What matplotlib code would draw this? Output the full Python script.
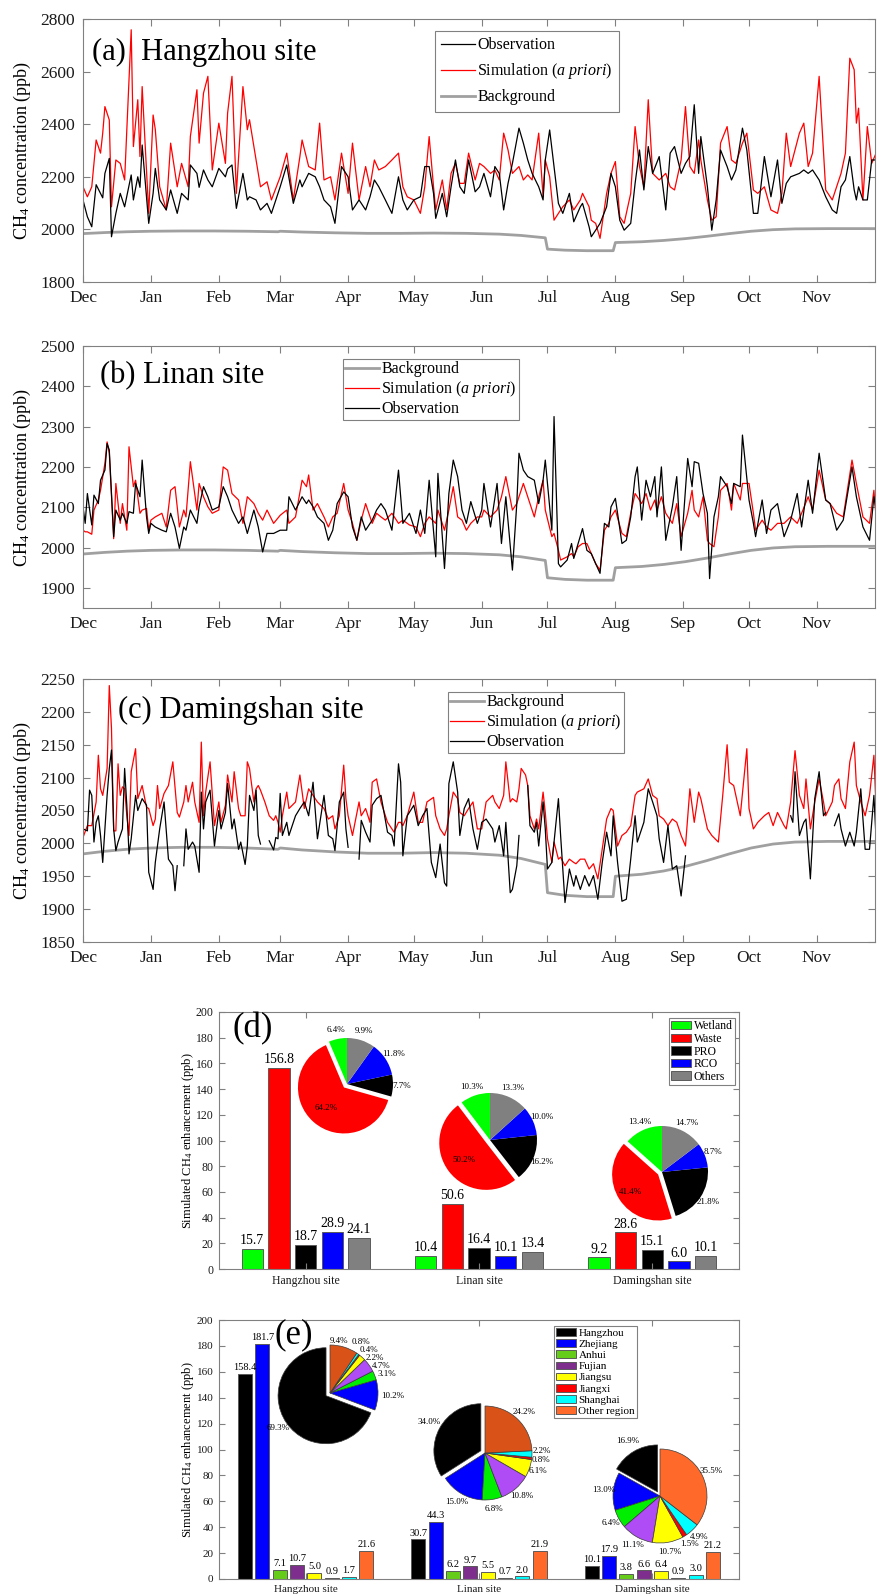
import numpy as np
import matplotlib.pyplot as plt
from matplotlib.lines import Line2D
from matplotlib.patches import Patch

plt.rcParams['font.family'] = 'Liberation Serif'
plt.rcParams['mathtext.fontset'] = 'custom'
plt.rcParams['mathtext.rm'] = 'Liberation Serif'
plt.rcParams['mathtext.it'] = 'Liberation Serif:italic'

nan = np.nan

# ---- time axis: days counted from 1 December ----
month_days = [0, 31, 62, 90, 121, 151, 182, 212, 243, 274, 304, 335]
month_names = ['Dec', 'Jan', 'Feb', 'Mar', 'Apr', 'May', 'Jun', 'Jul', 'Aug', 'Sep', 'Oct', 'Nov']

# background CH4 (ppb), shared by the three sites
bg_days = [0, 10, 20, 31, 45, 60, 75, 89, 90, 100, 115, 130, 145, 160, 175, 190, 200, 211, 212,
           220, 230, 242, 243, 255, 265, 275, 285, 295, 305, 315, 325, 340, 362]
bg_vals = [1984, 1988, 1991, 1993, 1994, 1994, 1993, 1991, 1993, 1990, 1987, 1985, 1985, 1986, 1985,
           1982, 1977, 1968, 1925, 1921, 1919, 1919, 1950, 1953, 1958, 1965, 1974, 1984, 1993, 1999,
           2002, 2003, 2003]

# Hangzhou
a_days = [0, 2, 4, 6, 8, 9, 10, 12, 13, 15,
          17, 19, 22, 23, 25, 26, 27, 30, 32, 33,
          35, 38, 40, 43, 45, 48, 49, 52, 53, 55,
          57, 59, 62, 65, 66, 68, 70, 73, 75, 76,
          79, 81, 84, 86, 90, 93, 96, 99, 100, 103,
          106, 108, 110, 113, 115, 118, 121, 123, 126, 129,
          131, 133, 135, 138, 141, 144, 146, 148, 151, 154,
          156, 158, 160, 161, 164, 166, 168, 170, 172, 174,
          176, 179, 181, 183, 186, 188, 190, 192, 194, 196,
          199, 201, 203, 205, 208, 210, 211, 213, 215, 217,
          219, 222, 224, 227, 228, 231, 232, 234, 236, 239,
          241, 243, 245, 247, 250, 252, 254, 256, 258, 260,
          263, 266, 268, 270, 273, 275, 277, 279, 281, 282,
          285, 287, 289, 291, 294, 296, 298, 301, 303, 306,
          308, 311, 314, 317, 319, 321, 323, 327, 329, 331,
          333, 336, 339, 342, 344, 346, 348, 350, 352, 353,
          354, 356, 358, 360, 362]
a_sim = [2162, 2124, 2162, 2340, 2290, 2366, 2467, 2416, 2086, 2264,
         2251, 2188, 2759, 2315, 2493, 2277, 2543, 2061, 2435, 2380,
         2162, 2074, 2328, 2162, 2251, 2162, 2353, 2531, 2328, 2518,
         2582, 2226, 2404, 2251, 2442, 2582, 2137, 2543, 2379, 2417,
         2264, 2162, 2181, 2112, 2200, 2290, 2112, 2277, 2340, 2239,
         2226, 2404, 2188, 2200, 2112, 2290, 2137, 2328, 2112, 2239,
         2162, 2264, 2226, 2239, 2264, 2290, 2162, 2124, 2112, 2061,
         2162, 2353, 2162, 2074, 2188, 2074, 2213, 2251, 2175, 2175,
         2290, 2188, 2251, 2239, 2213, 2226, 2188, 2366, 2302, 2213,
         2239, 2188, 2207, 2188, 2366, 2124, 2264, 2200, 2035, 2061,
         2086, 2112, 2074, 2112, 2137, 2086, 2035, 2023, 1966, 2137,
         2213, 2258, 2048, 2023, 2137, 2391, 2239, 2162, 2493, 2213,
         2188, 2213, 2162, 2150, 2264, 2467, 2239, 2213, 2340, 2264,
         2112, 2035, 2048, 2328, 2391, 2264, 2251, 2328, 2366, 2150,
         2137, 2162, 2074, 2061, 2137, 2366, 2239, 2366, 2404, 2239,
         2290, 2582, 2150, 2112, 2162, 2213, 2290, 2651, 2607, 2404,
         2461, 2112, 2391, 2251, 2290]
a_obs = [2112, 2048, 2010, 2170, 2137, 2120, 2213, 2270, 1972, 2061,
         2137, 2086, 2207, 2112, 2200, 2160, 2321, 2023, 2137, 2232,
         2112, 2074, 2150, 2061, 2137, 2112, 2245, 2213, 2160, 2226,
         2188, 2162, 2232, 2200, 2230, 2245, 2080, 2213, 2112, 2124,
         2112, 2074, 2099, 2061, 2162, 2245, 2099, 2188, 2162, 2213,
         2200, 2162, 2112, 2086, 2023, 2239, 2200, 2074, 2112, 2074,
         2124, 2188, 2162, 2112, 2061, 2200, 2112, 2074, 2112, 2124,
         2239, 2239, 2137, 2042, 2137, 2048, 2162, 2264, 2162, 2137,
         2264, 2143, 2162, 2213, 2124, 2239, 2213, 2074, 2175, 2251,
         2385, 2328, 2264, 2213, 2162, 2112, 2264, 2378, 2239, 2099,
         2061, 2137, 2029, 2086, 2099, 2010, 1972, 1997, 2023, 2086,
         2213, 2162, 2035, 1997, 2023, 2175, 2302, 2150, 2315, 2213,
         2277, 2074, 2290, 2315, 2213, 2251, 2277, 2474, 2213, 2353,
         2162, 1997, 2112, 2302, 2239, 2188, 2226, 2385, 2302, 2061,
         2061, 2277, 2124, 2264, 2099, 2175, 2200, 2213, 2226, 2213,
         2226, 2188, 2124, 2074, 2061, 2162, 2188, 2277, 2150, 2112,
         2162, 2112, 2112, 2264, 2264]

# Linan
b_days = [0, 1, 2, 4, 5, 7, 8, 10, 11, 12,
          14, 15, 17, 18, 20, 21, 23, 24, 26, 27,
          29, 30, 31, 33, 36, 38, 40, 42, 44, 46,
          47, 49, 52, 53, 55, 57, 59, 62, 64, 66,
          68, 71, 73, 75, 78, 80, 82, 84, 87, 90,
          93, 94, 97, 100, 102, 103, 105, 107, 110, 112,
          114, 116, 119, 121, 123, 125, 127, 129, 132, 134,
          136, 138, 141, 144, 146, 149, 152, 154, 156, 158,
          161, 162, 165, 167, 169, 171, 173, 175, 177, 180,
          182, 183, 186, 189, 191, 193, 196, 198, 199, 201,
          203, 206, 208, 210, 211, 214, 215, 217, 218, 221,
          223, 224, 226, 228, 230, 232, 234, 236, 238, 240,
          241, 243, 246, 248, 250, 252, 253, 255, 257, 259,
          261, 262, 264, 266, 269, 271, 273, 276, 278, 279,
          281, 283, 285, 286, 288, 290, 291, 294, 296, 297,
          300, 301, 304, 306, 307, 310, 312, 314, 317, 320,
          323, 326, 328, 331, 333, 336, 339, 341, 344, 347,
          351, 353, 356, 359, 361, 362]
b_obs = [2101, 2060, 2134, 2056, 2130, 2109, 2167, 2192, 2258, 2242,
         2027, 2093, 2068, 2085, 2060, 2089, 2085, 2159, 2126, 2217,
         2076, 2035, 2060, 2051, 2043, 2039, 2085, 2051, 1998, 2051,
         2043, 2093, 2060, 2101, 2151, 2126, 2093, 2101, 2151, 2126,
         2093, 2060, 2076, 2035, 2093, 2051, 1989, 2035, 2035, 2043,
         2043, 2126, 2093, 2126, 2109, 2118, 2101, 2076, 2060, 2018,
         2043, 2109, 2138, 2126, 2051, 2018, 2076, 2043, 2068, 2093,
         2109, 2093, 2043, 2192, 2060, 2085, 2035, 2093, 2035, 2167,
         1977, 2184, 1948, 2134, 2217, 2176, 2093, 2060, 2114, 2060,
         2093, 2159, 2051, 2159, 2010, 2126, 1944, 2109, 2234, 2192,
         2176, 2167, 2109, 2167, 2217, 2043, 2325, 1960, 1952, 1969,
         2010, 1973, 2010, 2047, 1993, 1985, 1960, 1936, 2060, 2051,
         2101, 2122, 2010, 2018, 2076, 2176, 2200, 2068, 2167, 2126,
         2176, 2076, 2200, 2018, 2101, 2176, 1993, 2221, 2151, 2213,
         2209, 2134, 2085, 1923, 2076, 2126, 2176, 2151, 2109, 2159,
         2151, 2279, 2118, 2060, 2027, 2118, 2035, 2093, 2109, 2027,
         2068, 2134, 2051, 2167, 2085, 2234, 2118, 2109, 2043, 2068,
         2200, 2126, 2051, 2018, 2126, 2093]
b_sim = [2043, 2039, 2039, 2033, 2093, 2118, 2142, 2209, 2262, 2234,
         2022, 2159, 2060, 2109, 2043, 2250, 2151, 2167, 2085, 2093,
         2097, 2043, 2068, 2076, 2085, 2051, 2142, 2151, 2051, 2093,
         2076, 2213, 2093, 2159, 2126, 2101, 2085, 2093, 2200, 2192,
         2134, 2118, 2060, 2126, 2109, 2085, 2068, 2093, 2060, 2080,
         2093, 2060, 2076, 2167, 2151, 2180, 2093, 2109, 2076, 2051,
         2076, 2085, 2159, 2093, 2060, 2018, 2068, 2109, 2060, 2085,
         2076, 2068, 2085, 2060, 2068, 2056, 2051, 2027, 2060, 2076,
         2060, 2093, 2043, 2093, 2151, 2076, 2068, 2043, 2060, 2076,
         2076, 2093, 2076, 2093, 2126, 2176, 2093, 2109, 2126, 2159,
         2126, 2076, 2126, 2167, 2093, 2027, 2035, 1993, 1969, 1977,
         1985, 1977, 2002, 2010, 2010, 1985, 1960, 1944, 2043, 2060,
         2076, 2093, 2035, 2027, 2085, 2134, 2126, 2109, 2134, 2093,
         2118, 2093, 2126, 2085, 2060, 2109, 2027, 2085, 2142, 2093,
         2076, 2126, 2018, 2010, 2002, 2076, 2142, 2159, 2093, 2159,
         2118, 2159, 2159, 2085, 2043, 2068, 2051, 2043, 2060, 2060,
         2076, 2060, 2085, 2126, 2093, 2192, 2118, 2109, 2085, 2076,
         2217, 2159, 2076, 2060, 2142, 2076]

# Damingshan (observation has gaps)
c_sim_days = [0, 2, 4, 5, 6, 7, 8, 9, 11, 12,
              13, 14, 15, 16, 17, 18, 19, 20, 21, 22,
              24, 25, 27, 29, 30, 32, 33, 34, 35, 37,
              39, 41, 43, 44, 46, 47, 48, 50, 51, 53,
              54, 55, 56, 58, 60, 62, 63, 65, 66, 68,
              69, 71, 72, 74, 75, 76, 78, 79, 80, 81,
              83, 85, 87, 88, 89, 90, 91, 93, 94, 97,
              99, 101, 103, 105, 107, 110, 112, 114, 115, 117,
              119, 120, 121, 123, 126, 127, 129, 131, 132, 134,
              136, 139, 141, 142, 144, 145, 146, 148, 151, 153,
              155, 157, 160, 161, 163, 165, 166, 167, 169, 171,
              172, 174, 176, 178, 180, 182, 184, 187, 188, 190,
              192, 193, 195, 196, 198, 199, 200, 202, 203, 204,
              206, 207, 208, 210, 211, 212, 214, 215, 217, 218,
              220, 222, 224, 225, 227, 229, 231, 233, 235, 237,
              239, 241, 242, 244, 246, 248, 250, 252, 253, 256,
              258, 260, 262, 263, 265, 267, 269, 271, 273, 275,
              277, 279, 281, 282, 285, 287, 290, 292, 294, 295,
              297, 300, 303, 304, 306, 308, 311, 313, 315, 317,
              320, 321, 323, 325, 327, 329, 330, 332, 334, 336,
              338, 339, 342, 343, 345, 346, 348, 350, 352, 353,
              355, 357, 359, 361, 362]
c_sim = [2009, 2027, 2027, 2045, 2063, 2134, 2083, 2073, 2114, 2240,
         2175, 2019, 2019, 2121, 2073, 2086, 2083, 2042, 2012, 2109,
         2144, 2068, 2088, 2055, 2053, 2027, 2037, 2088, 2053, 2076,
         2088, 2124, 2047, 2040, 2063, 2088, 2063, 2093, 2063, 2032,
         2154, 2042, 2078, 2124, 2027, 2063, 2032, 2058, 2104, 2063,
         2109, 2053, 2042, 2042, 2124, 2114, 2063, 2083, 2088, 2081,
         2063, 2042, 2035, 2042, 2032, 2017, 2042, 2078, 2053, 2063,
         2104, 2053, 2083, 2073, 2063, 2053, 2037, 2042, 2022, 2042,
         2119, 2068, 2042, 2012, 2063, 2042, 2053, 2032, 2093, 2098,
         2063, 2032, 2022, 2017, 2032, 2032, 2027, 2042, 2078, 2032,
         2032, 2063, 2070, 2042, 2022, 2012, 2022, 2042, 2078, 2068,
         2047, 2042, 2053, 2063, 2022, 2022, 2063, 2073, 2063, 2053,
         2073, 2124, 2063, 2068, 2063, 2083, 2114, 2104, 2088, 2042,
         2022, 2037, 2022, 2078, 2047, 2007, 1971, 2002, 1976, 1979,
         1966, 1976, 1971, 1969, 1976, 1976, 1961, 1969, 1946, 1991,
         2037, 2053, 2050, 1996, 2012, 2017, 2027, 2073, 2078, 2083,
         2098, 2073, 2068, 2042, 2037, 2027, 2037, 2032, 2012, 1996,
         2083, 2032, 2078, 2068, 2022, 2012, 2002, 2073, 2150, 2093,
         2088, 2042, 2144, 2053, 2022, 2032, 2042, 2047, 2027, 2047,
         2027, 2022, 2063, 2141, 2073, 2053, 2098, 2022, 2063, 2098,
         2063, 2042, 2063, 2088, 2098, 2068, 2053, 2124, 2154, 2088,
         2063, 2042, 2073, 2134, 2053]
c_obs_days = [0, 2, 3, 4, 5, 6, 7, 8, 9, 11,
              12, 13, 14, 15, 16, 17, 18, 19, 20, 21,
              22, 24, 25, 27, 29, 30, 32, 33, 34, 35,
              37, 39, 41, 42, 43, 44, 46, 47, 48, 50,
              51, 53, 54, 55, 56, 58, 60, 62, 63, 65,
              66, 68, 69, 71, 72, 74, 75, 76, 78, 79,
              80, 81, 83, 85, 87, 88, 89, 90, 91, 93,
              94, 97, 99, 101, 103, 105, 107, 110, 112, 114,
              115, 117, 119, 120, 121, 123, 126, 127, 129, 131,
              132, 134, 136, 139, 141, 142, 144, 145, 146, 148,
              151, 153, 155, 157, 159, 161, 163, 165, 166, 167,
              169, 171, 172, 174, 176, 178, 180, 182, 184, 187,
              188, 190, 192, 193, 195, 196, 198, 199, 200, 203,
              204, 206, 207, 208, 210, 211, 212, 214, 215, 217,
              218, 220, 222, 224, 225, 227, 229, 231, 233, 235,
              237, 239, 241, 242, 244, 246, 248, 250, 252, 253,
              256, 258, 260, 262, 263, 265, 267, 269, 271, 273,
              275, 276, 323, 324, 325, 327, 329, 330, 332, 334,
              336, 338, 339, 341, 343, 345, 346, 348, 350, 352,
              353, 355, 357, 359, 361, 362]
c_obs = [2022, 2019, 2081, 2073, 2002, 2032, 2042, 2012, 1971, 2073,
         2114, 2142, 2022, 1989, 2002, 2012, 2022, 2114, 2058, 1984,
         2007, 2073, 2050, 2068, 2058, 1956, 1930, 1971, 1996, 2022,
         2063, 1976, 1966, 1928, 1966, nan, 1966, 2022, 1991, 2002,
         1996, 1956, 2078, 2022, 2063, 2081, 1996, 2050, 2022, 2047,
         2091, 2022, 2037, 1991, 2002, 1968, 1996, 2073, 2050, 2081,
         2012, 1999, nan, 2004, 1990, 2009, 2007, 2076, 2012, 2032,
         2012, 2042, 2053, 2063, 2042, 2093, 2007, 2073, 2012, 2007,
         1989, 2063, 2078, 2022, 1994, nan, 1976, 2035, 2017, 2002,
         2058, 2068, 2073, 2017, 2012, 1996, 2121, 2093, 1981, 2042,
         2058, 2027, 2042, 2053, 1971, 1948, 1999, 1940, 1935, 2091,
         2124, 2078, 2012, 2053, 2068, 2022, 1991, 2032, 2037, 2022,
         2002, 2027, 1981, 2032, 1925, 1930, 1966, 2012, nan, 2088,
         2027, 2017, 2032, 1996, 2063, 2022, 1961, 1971, 2002, 2068,
         2012, 1910, 1961, 1935, 1951, 1930, 1951, 1935, 1951, 1915,
         1971, 2017, 1981, 2042, 1971, 1912, 1915, 1976, 2042, 2002,
         2032, 2083, 2063, 2042, 2007, 1971, 2027, 1961, 1966, 1920,
         1981, nan, 2042, 2032, 2109, 2012, 2032, 2037, 1946, 2068,
         2109, 2042, 2047, nan, 2027, 2045, 2022, 1996, 2017, 1996,
         2017, 2083, 1991, 1991, 2073, 2007]

# ---- source / region contributions ----
sites = ['Hangzhou site', 'Linan site', 'Damingshan site']

sources = ['Wetland', 'Waste', 'PRO', 'RCO', 'Others']
source_vals = [[15.7, 156.8, 18.7, 28.9, 24.1],
               [10.4, 50.6, 16.4, 10.1, 13.4],
               [9.2, 28.6, 15.1, 6.0, 10.1]]
source_pct = [[6.4, 64.2, 7.7, 11.8, 9.9],
              [10.3, 50.2, 16.2, 10.0, 13.3],
              [13.4, 41.4, 21.8, 8.7, 14.7]]

regions = ['Hangzhou', 'Zhejiang', 'Anhui', 'Fujian', 'Jiangsu', 'Jiangxi', 'Shanghai', 'Other region']
region_vals = [[158.4, 181.7, 7.1, 10.7, 5.0, 0.9, 1.7, 21.6],
               [30.7, 44.3, 6.2, 9.7, 5.5, 0.7, 2.0, 21.9],
               [10.1, 17.9, 3.8, 6.6, 6.4, 0.9, 3.0, 21.2]]
region_pct = [[69.3, 10.2, 3.1, 4.7, 2.2, 0.4, 0.8, 9.4],
              [34.0, 15.0, 6.8, 10.8, 6.1, 0.8, 2.2, 24.2],
              [16.9, 13.0, 6.4, 11.1, 10.7, 1.5, 4.9, 35.5]]

# ---- colours ----
source_colors = ['#00ff00', '#ff0000', '#000000', '#0000ff', '#808080']
region_bar_colors = ['#000000', '#0000ff', '#66cc1a', '#7e2f8e', '#ffff00', '#a2142f', '#00ffff', '#ff6a2a']
region_leg_colors = ['#000000', '#0000ff', '#66cc1a', '#7e2f8e', '#ffff00', '#ff0000', '#00ffff', '#ff6a2a']
region_pie_colors = ['#000000', '#0000ff', '#00ee00', '#b04cf5', '#ffff00', '#ff0000', '#00ffff', '#d95319']
AX_GRAY = '#808080'
BG_GRAY = '#a0a0a0'

W, H = 877, 1596
fig = plt.figure(figsize=(W / 100, H / 100), dpi=100)


def add_axes_px(x0, y0, x1, y1):
    return fig.add_axes([x0 / W, 1 - y1 / H, (x1 - x0) / W, (y1 - y0) / H])


def style_box(ax, labelsize, length, pad):
    for s in ax.spines.values():
        s.set_color(AX_GRAY)
        s.set_linewidth(0.8)
    ax.tick_params(direction='in', top=True, right=True, length=length, width=0.8,
                   color=AX_GRAY, labelsize=labelsize, labelcolor='#1a1a1a', pad=pad)


line_handles = {'obs': Line2D([], [], color='black', lw=0.9),
                'sim': Line2D([], [], color='red', lw=0.9),
                'bg': Line2D([], [], color=BG_GRAY, lw=2.0)}
line_labels = {'obs': 'Observation',
               'sim': r'Simulation ($\mathit{a\ priori}$)',
               'bg': 'Background'}


def series_panel(y0, y1, obs_d, obs_v, sim_d, sim_v, ylim, yticks, title, tpos,
                 order, leg_px, spacing, bpad):
    ax = add_axes_px(83, y0, 875, y1)
    ax.plot(bg_days, bg_vals, color=BG_GRAY, lw=2.0)
    ax.plot(sim_d, sim_v, color='red', lw=0.9)
    ax.plot(obs_d, obs_v, color='black', lw=0.9)
    ax.set_xlim(0, 361.5)
    ax.set_ylim(*ylim)
    ax.set_yticks(yticks)
    ax.set_xticks(month_days)
    ax.set_xticklabels(month_names)
    style_box(ax, 12.5, 5, 6)
    ax.set_ylabel('CH$_4$ concentration (ppb)', fontsize=13)
    ax.yaxis.set_label_coords(-0.063, 0.5)
    ax.text(tpos[0], tpos[1], title, transform=ax.transAxes, fontsize=22, va='baseline')
    leg = ax.legend([line_handles[k] for k in order], [line_labels[k] for k in order],
                    loc='upper left', bbox_to_anchor=(leg_px[0] / W, 1 - leg_px[1] / H),
                    bbox_transform=fig.transFigure, fontsize=11.5, frameon=True,
                    fancybox=False, framealpha=1, edgecolor=AX_GRAY, borderaxespad=0,
                    handlelength=2.1, handletextpad=0.15, labelspacing=spacing, borderpad=bpad)
    leg.get_frame().set_linewidth(0.8)
    return ax


series_panel(19, 282, a_days, a_obs, a_days, a_sim, (1800, 2800), range(1800, 2801, 200),
             '(a)  Hangzhou site', (0.011, 0.844), ['obs', 'sim', 'bg'], (435, 31), 0.5, 0.4)
series_panel(346, 608, b_days, b_obs, b_days, b_sim, (1850, 2500), range(1900, 2501, 100),
             '(b) Linan site', (0.021, 0.859), ['bg', 'sim', 'obs'], (343, 359), 0.12, 0.15)
series_panel(679, 942, c_obs_days, c_obs, c_sim_days, c_sim, (1850, 2250), range(1850, 2251, 50),
             '(c) Damingshan site', (0.044, 0.852), ['bg', 'sim', 'obs'], (448, 692), 0.12, 0.15)


def bar_panel(y0, y1, vals, colors, step, width, label_fs, tick_fs, letter, letter_px):
    ax = add_axes_px(219, y0, 739, y1)
    vals = np.array(vals)
    n = vals.shape[1]
    centers = np.arange(1, len(sites) + 1)
    for j in range(n):
        xs = centers + (j - (n - 1) / 2) * step
        ax.bar(xs, vals[:, j], width=width, color=colors[j], edgecolor='#5a5a5a', linewidth=0.7)
        for x, v in zip(xs, vals[:, j]):
            ax.annotate(f'{v:.1f}', (x, v), xytext=(0, 1.2), textcoords='offset points',
                        ha='center', va='bottom', fontsize=label_fs)
    ax.set_xlim(0.5, 3.5)
    ax.set_ylim(0, 200)
    ax.set_yticks(range(0, 201, 20))
    ax.set_xticks(centers)
    ax.set_xticklabels(sites)
    style_box(ax, tick_fs, 4, 4)
    ax.set_ylabel('Simulated CH$_4$ enhancement (ppb)', fontsize=9)
    ax.yaxis.set_label_coords(-0.044, 0.5)
    ax.text((letter_px[0] - 219) / 520, (y1 - letter_px[1]) / (y1 - y0), letter,
            transform=ax.transAxes, fontsize=25, va='top')
    return ax


def pie_inset(cx, cy, r, pct, colors, explode_idx, inner, out, fs, edge, manual=None):
    s = 1.6
    ax = fig.add_axes([(cx - s * r) / W, 1 - (cy + s * r) / H, 2 * s * r / W, 2 * s * r / H])
    explode = [0.1 if i == explode_idx else 0 for i in range(len(pct))]
    wedges, _ = ax.pie(pct, colors=colors, explode=explode, startangle=90, counterclock=True,
                       radius=1, wedgeprops=dict(linewidth=edge[0], edgecolor=edge[1]))
    ax.set_xlim(-s, s)
    ax.set_ylim(-s, s)
    ax.set_aspect('equal')
    ax.axis('off')
    manual = manual or {}
    for i, w in enumerate(wedges):
        if i in manual:
            px, py = manual[i]
        else:
            ang = np.deg2rad((w.theta1 + w.theta2) / 2)
            d = inner if i == explode_idx else out
            px = w.center[0] + d * np.cos(ang)
            py = w.center[1] + d * np.sin(ang)
        ax.text(px, py, f'{pct[i]:.1f}%', ha='center', va='center', fontsize=fs)


# (d) contribution by source sector
axd = bar_panel(1012, 1269, source_vals, source_colors, 0.154, 0.123, 10, 8.5, '(d)', (232, 1012))
leg = axd.legend([Patch(facecolor=c, edgecolor='#5a5a5a', linewidth=0.7) for c in source_colors],
                 sources, loc='upper left', bbox_to_anchor=(669 / W, 1 - 1018 / H),
                 bbox_transform=fig.transFigure, fontsize=8.5, fancybox=False, framealpha=1,
                 edgecolor=AX_GRAY, borderaxespad=0, handlelength=1.7, handletextpad=0.2,
                 labelspacing=0.05, borderpad=0.2)
leg.get_frame().set_linewidth(0.8)

pie_inset(347, 1084, 46, source_pct[0], source_colors, 1, 0.6, 1.2, 6.5, (0, 'none'))
pie_inset(490, 1140, 47, source_pct[1], source_colors, 1, 0.6, 1.2, 6.5, (0, 'none'))
pie_inset(662, 1172, 46, source_pct[2], source_colors, 1, 0.72, 1.2, 6.5, (0, 'none'))

# (e) contribution by region
axe = bar_panel(1320, 1579, region_vals, region_bar_colors, 0.1, 0.08, 7.5, 8, '(e)', (275, 1318))
leg = axe.legend([Patch(facecolor=c, edgecolor='#5a5a5a', linewidth=0.7) for c in region_leg_colors],
                 regions, loc='upper left', bbox_to_anchor=(554 / W, 1 - 1326 / H),
                 bbox_transform=fig.transFigure, fontsize=8, fancybox=False, framealpha=1,
                 edgecolor=AX_GRAY, borderaxespad=0, handlelength=1.8, handletextpad=0.2,
                 labelspacing=0.12, borderpad=0.2)
leg.get_frame().set_linewidth(0.8)

hz_labels = {0: (-1.08, -0.72), 1: (1.3, -0.06), 2: (1.18, 0.4), 3: (1.06, 0.56),
             4: (0.94, 0.73), 5: (0.81, 0.9), 6: (0.65, 1.06), 7: (0.18, 1.08)}
pie_inset(330, 1393, 48, region_pct[0], region_pie_colors, 0, 1.25, 1.2, 6.5, (0.5, '#3a3a3a'),
          manual=hz_labels)
pie_inset(485, 1453, 47, region_pct[1], region_pie_colors, 0, 1.25, 1.2, 6.5, (0.5, '#3a3a3a'),
          manual={6: (1.22, 0.05), 5: (1.2, -0.14)})
pie_inset(660, 1496, 47, region_pct[2], region_pie_colors[:-1] + ['#ff6a2a'], 0, 1.25, 1.2, 6.5,
          (0.5, '#3a3a3a'))

fig.savefig('out.png', dpi=100)
